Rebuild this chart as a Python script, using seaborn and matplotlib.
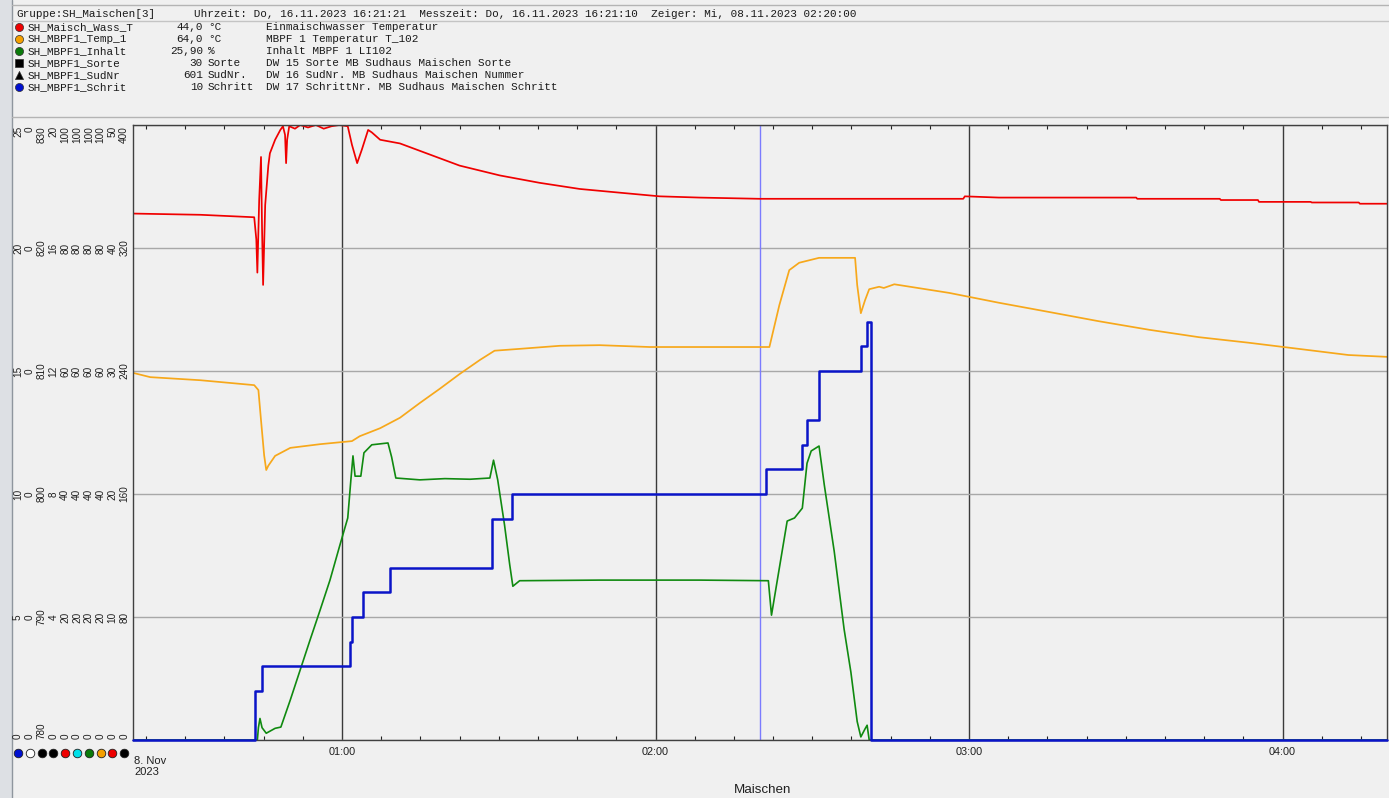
import matplotlib
matplotlib.use("Agg")
import matplotlib.pyplot as plt
import matplotlib.dates as mdates
import matplotlib.ticker as mticker
from matplotlib.patches import Rectangle
import pandas as pd
import seaborn as sns

# Zeit in Minuten ab 08.11.2023 00:00
rot_min = [20.0, 32.9, 43.2, 43.6, 43.8, 44.15, 44.5, 44.7, 44.9, 45.3, 45.9, 46.2, 47.2, 48.2, 48.7,
           49.1, 49.3, 49.5, 49.9, 51.0, 52.0, 53.5, 55.0, 56.5, 58.0, 59.5, 61.1, 61.9, 62.9, 63.8,
           65.0, 65.7, 67.3, 71.1, 76.8, 82.5, 90.2, 97.8, 105.5, 113.1, 120.8, 128.4, 139.9, 178.9,
           179.2, 185.7, 204.8, 212.0, 212.2, 228.0, 228.2, 235.3, 235.5, 245.4, 245.6, 254.6, 254.8, 260.0]
rot_temp = [42.8, 42.7, 42.5, 40.7, 38.0, 43.9, 47.4, 41.5, 37.0, 43.5, 46.7, 47.7, 48.8, 49.6, 49.9,
            49.2, 46.9, 48.8, 49.9, 49.7, 50.0, 49.8, 50.0, 49.7, 49.9, 50.0, 49.9, 48.4, 46.9, 48.0,
            49.6, 49.4, 48.8, 48.5, 47.6, 46.7, 45.9, 45.3, 44.8, 44.5, 44.2, 44.1, 44.0, 44.0,
            44.2, 44.1, 44.1, 44.1, 44.0, 44.0, 43.9, 43.9, 43.75, 43.75, 43.7, 43.7, 43.6, 43.6]

orange_min = [20.0, 23.3, 32.9, 43.2, 44.0, 44.5, 45.1, 45.5, 45.9, 47.2, 50.1, 55.8, 61.9, 63.4, 67.3,
              71.1, 74.9, 78.7, 82.5, 86.4, 89.2, 94.0, 101.7, 109.3, 118.9, 128.4, 141.8, 143.7, 145.6,
              147.5, 151.3, 158.2, 158.6, 159.3, 160.1, 160.9, 162.8, 163.7, 165.7, 176.2, 185.7, 195.3,
              204.8, 214.5, 224.0, 233.5, 243.1, 252.6, 260.0]
orange_temp = [59.7, 59.0, 58.5, 57.7, 56.9, 52.0, 46.3, 43.9, 44.6, 46.2, 47.5, 48.1, 48.6, 49.4, 50.7,
               52.4, 54.8, 57.1, 59.5, 61.8, 63.3, 63.6, 64.1, 64.2, 63.9, 63.9, 63.9, 70.7, 76.4,
               77.6, 78.4, 78.4, 74.0, 69.4, 71.5, 73.3, 73.7, 73.5, 74.1, 72.7, 71.1, 69.6,
               68.1, 66.7, 65.5, 64.6, 63.6, 62.6, 62.3]

gruen_min = [20.0, 43.8, 44.0, 44.3, 44.7, 45.5, 47.2, 48.3, 50.1, 52.0, 53.9, 55.8, 57.7, 59.6, 61.1,
             61.7, 62.1, 62.5, 63.6, 64.2, 65.7, 68.8, 69.5, 70.3, 74.9, 79.7, 84.5, 88.3, 89.0, 89.8,
             91.1, 92.1, 92.7, 94.0, 109.3, 128.4, 141.6, 142.2, 145.2, 146.6, 148.1, 149.0, 149.8,
             151.3, 152.3, 154.2, 156.1, 157.4, 158.6, 159.3, 160.1, 160.5, 160.9, 260.0]
gruen_inhalt = [0, 0, 2.0, 3.5, 2.0, 1.1, 1.9, 2.1, 6.5, 11.4, 16.3, 21.1, 26.0, 31.7, 36.1,
                42.3, 46.2, 42.9, 42.9, 46.7, 48.0, 48.3, 46.0, 42.6, 42.3, 42.5, 42.4, 42.6, 45.5, 42.3,
                35.0, 28.5, 25.0, 25.9, 26.0, 26.0, 25.9, 20.3, 35.6, 36.1, 37.7, 45.0, 47.0,
                47.8, 41.5, 30.7, 18.0, 11.0, 3.0, 0.5, 1.8, 2.4, 0, 0]

blau_min = [20.0, 43.4, 44.7, 61.5, 61.9, 64.0, 69.2, 88.7, 92.5, 141.2, 148.1, 149.0, 151.3,
            159.4, 160.5, 161.3, 260.0]
blau_schritt = [0, 2, 3, 4, 5, 6, 7, 9, 10, 11, 12, 13, 15, 16, 17, 0, 0]

# Skalen links (von links nach rechts)
skala_min = [0, 0, 780, 0, 0, 0, 0, 0, 0, 0]
skala_max = [25, 0, 830, 20, 100, 100, 100, 100, 50, 400]
skala_farbe = ["#0010d0", "white", "black", "black", "#ee0000", "#00e0e8", "#0a7a0a", "#f5a000", "#ee0000", "black"]

# Kopfzeile
kopf_namen = ["SH_Maisch_Wass_T", "SH_MBPF1_Temp_1", "SH_MBPF1_Inhalt", "SH_MBPF1_Sorte", "SH_MBPF1_SudNr", "SH_MBPF1_Schrit"]
kopf_werte = ["44,0", "64,0", "25,90", "30", "601", "10"]
kopf_einheit = ["°C", "°C", "%", "Sorte", "SudNr.", "Schritt"]
kopf_text = ["Einmaischwasser Temperatur", "MBPF 1 Temperatur T_102", "Inhalt MBPF 1 LI102",
             "DW 15 Sorte MB Sudhaus Maischen Sorte", "DW 16 SudNr. MB Sudhaus Maischen Nummer",
             "DW 17 SchrittNr. MB Sudhaus Maischen Schritt"]
kopf_marker = ["o", "o", "o", "s", "^", "o"]
kopf_farbe = ["#ee0000", "#f5a000", "#0a7a0a", "black", "black", "#0010d0"]

BG = "#f0f0f0"
ROT, ORANGE, GRUEN, BLAU = "#f00000", "#f7a81b", "#108a10", "#0a14c8"

sns.set_style("ticks")
plt.rcParams["font.family"] = ["Liberation Sans", "DejaVu Sans"]

start = pd.Timestamp("2023-11-08")


def zeit(minuten):
    return start + pd.to_timedelta(minuten, unit="min")


W, H = 1389, 798
fig = plt.figure(figsize=(W / 100, H / 100), dpi=100, facecolor=BG)
ax = fig.add_axes([133 / W, 1 - 740 / H, (1387 - 133) / W, (740 - 125) / H])
ax.set_facecolor(BG)

# alle Kurven auf 0..1 normiert (jeweils eigene Skala)
df_rot = pd.DataFrame({"Zeit": zeit(rot_min), "y": [v / 50 for v in rot_temp]})
df_or = pd.DataFrame({"Zeit": zeit(orange_min), "y": [v / 100 for v in orange_temp]})
df_gr = pd.DataFrame({"Zeit": zeit(gruen_min), "y": [v / 100 for v in gruen_inhalt]})
df_bl = pd.DataFrame({"Zeit": zeit(blau_min), "y": [v / 25 for v in blau_schritt]})

ax.axvline(zeit(140), color="#7b7bff", lw=1, zorder=1.5)
sns.lineplot(data=df_or, x="Zeit", y="y", color=ORANGE, lw=1.25, ax=ax)
sns.lineplot(data=df_rot, x="Zeit", y="y", color=ROT, lw=1.25, ax=ax)
sns.lineplot(data=df_gr, x="Zeit", y="y", color=GRUEN, lw=1.2, ax=ax)
sns.lineplot(data=df_bl, x="Zeit", y="y", color=BLAU, lw=1.8, drawstyle="steps-post",
             clip_on=False, zorder=3, ax=ax)

ax.set_xlim(zeit(20), zeit(260))
ax.set_ylim(0, 1)
ax.xaxis.set_major_locator(mdates.HourLocator())
ax.xaxis.set_major_formatter(mdates.DateFormatter("%H:%M"))
ax.xaxis.set_minor_locator(mticker.MultipleLocator(7.5 / 1440))
ax.set_yticks([0, 0.2, 0.4, 0.6, 0.8, 1.0])
ax.set_yticklabels([])
ax.tick_params(axis="y", length=0)
ax.tick_params(axis="x", which="major", length=0, pad=5, labelsize=7.8, colors="#202020")
ax.tick_params(axis="x", which="minor", direction="in", length=3, width=0.8, top=True, bottom=True, color="#202020")
ax.grid(axis="x", which="major", color="#3a3a3a", lw=1)
ax.grid(axis="y", color="#a8a8a8", lw=1)
for s in ax.spines.values():
    s.set_visible(True)
    s.set_color("#404040")
    s.set_linewidth(1)
ax.set_ylabel("")
ax.set_xlabel("Maischen", fontsize=9.6, color="#202020")
ax.xaxis.set_label_coords(0.502, -0.072)

# Overlay in Pixelkoordinaten fuer Kopf und Skalen
ov = fig.add_axes([0, 0, 1, 1])
ov.set_xlim(0, W)
ov.set_ylim(H, 0)
ov.axis("off")

ov.add_patch(Rectangle((0, 0), 11, H, color="#dde0e4", zorder=0))
ov.plot([12, 12], [0, H], color="#8f969e", lw=1)
ov.plot([12, W], [5, 5], color="#b4b4b4", lw=1)
ov.plot([12, W], [21, 21], color="#c4c4c4", lw=1)
ov.plot([12, W], [117, 117], color="#b4b4b4", lw=1)

mono = dict(family="Liberation Mono", fontsize=7.9, color="#1a1a1a", va="center")
ov.text(16, 14, "Gruppe:SH_Maischen[3]", **mono)
ov.text(194, 14, "Uhrzeit: Do, 16.11.2023 16:21:21  Messzeit: Do, 16.11.2023 16:21:10  "
                 "Zeiger: Mi, 08.11.2023 02:20:00", **mono)
for i in range(len(kopf_namen)):
    y = 27 + 12 * i
    ov.scatter([19], [y], marker=kopf_marker[i], s=34, color=kopf_farbe[i], edgecolor="#303030",
               linewidth=0.5, clip_on=False)
    ov.text(28, y, kopf_namen[i], **mono)
    ov.text(203, y, kopf_werte[i], ha="right", **mono)
    ov.text(208, y, kopf_einheit[i], **mono)
    ov.text(266, y, kopf_text[i], **mono)

for i in range(len(skala_min)):
    x = 18 + 11.8 * i
    for j in range(6):
        wert = skala_min[i] + (skala_max[i] - skala_min[i]) * j / 5
        y = 740 - 123 * j
        va = "bottom" if j == 0 else ("top" if j == 5 else "center")
        ov.text(x, y - 1 if j == 0 else (y + 1 if j == 5 else y), f"{wert:g}", rotation=90,
                ha="center", va=va, fontsize=7.2, color="#202020")
    ov.scatter([x], [753], s=38, color=skala_farbe[i], edgecolor="#202020", linewidth=0.6, clip_on=False)

ov.text(134, 756, "8. Nov\n2023", ha="left", va="top", fontsize=8, color="#202020", linespacing=1.15)

fig.savefig("out.png", dpi=100, facecolor=BG)
